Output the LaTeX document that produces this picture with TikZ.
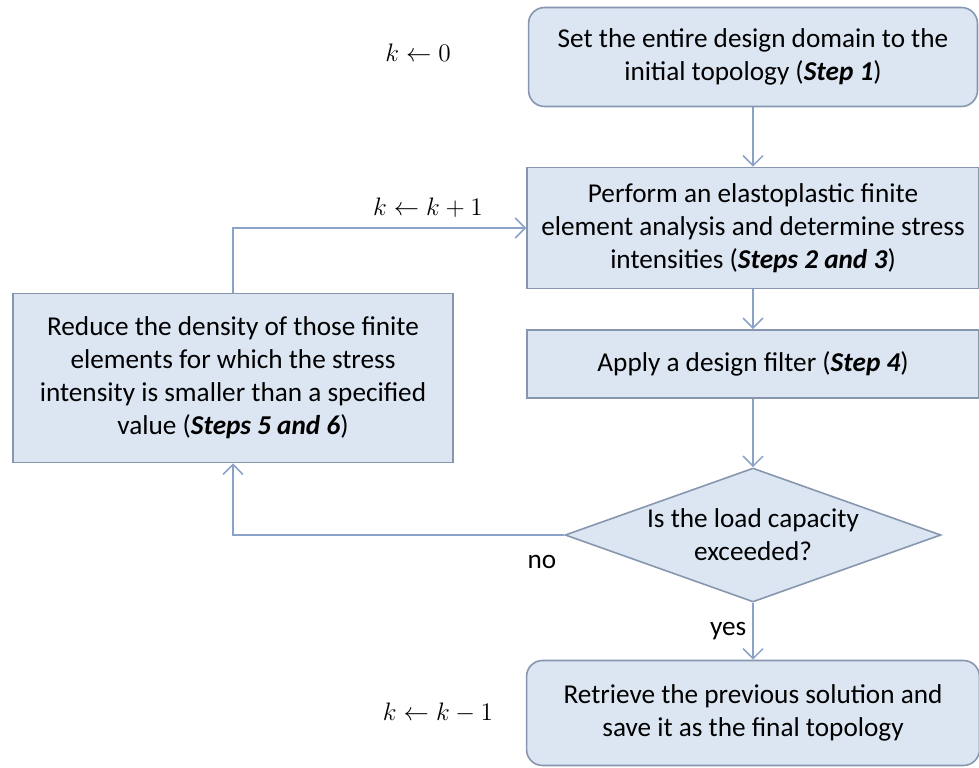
\documentclass[tikz,border=0pt]{standalone}
\usepackage{fontspec}
\setmainfont{Carlito}
\usetikzlibrary{shapes.geometric,arrows.meta}
\definecolor{boxfill}{HTML}{DCE6F2}
\definecolor{boxline}{HTML}{8596AE}
\definecolor{flowline}{HTML}{8AA2C8}
\begin{document}
\begin{tikzpicture}[x=0.02cm,y=-0.02cm,font=\fontsize{15.5}{18.8}\selectfont,
  stepbox/.style={draw=boxline,fill=boxfill,line width=0.9pt,align=center,inner sep=0pt},
  termbox/.style={stepbox,rounded corners=0.32cm},
  flow/.style={draw=flowline,line width=0.9pt,-{Straight Barb[length=2mm,width=4mm]}}] % topology loop
\useasboundingbox (0,0) rectangle (979,767);
    \node[termbox,minimum width=8.98cm,minimum height=1.98cm] (start) at (753,57)
        {Set the entire design domain to the\\initial topology (\textbf{\textit{Step 1}})};
    \node[stepbox,minimum width=9.04cm,minimum height=2.42cm] (fea) at (753,228)
        {Perform an elastoplastic finite\\element analysis and determine stress\\intensities (\textbf{\textit{Steps 2 and 3}})};
    \node[stepbox,minimum width=9.04cm,minimum height=1.36cm] (filter) at (753,364)
        {Apply a design filter (\textbf{\textit{Step 4}})};
    \node[stepbox,diamond,shape aspect=2.8,minimum width=7.52cm,minimum height=2.68cm] (check) at (753,535)
        {Is the load capacity\\exceeded?};
    \node[stepbox,minimum width=8.8cm,minimum height=3.38cm] (reduce) at (233,378)
        {Reduce the density of those finite\\elements for which the stress\\intensity is smaller than a specified\\value (\textbf{\textit{Steps 5 and 6}})};
    \node[termbox,minimum width=9.06cm,minimum height=2.1cm] (final) at (753,713)
        {Retrieve the previous solution and\\save it as the final topology};
    \node (k0) at (418,53) {$k \leftarrow 0$};
    \node (k1) at (428,208) {$k \leftarrow k+1$};
    \node (k2) at (438,713) {$k \leftarrow k-1$};
    \node (no) at (542,562) {no};
    \draw[flow] (start) -- (fea);
    \draw[flow] (fea) -- (filter);
    \draw[flow] (filter) -- (check);
    \draw[flow] (check) -- node[left] (yes) {yes} (final);
    \draw[flow] (check.west) -| (reduce.south);
    \draw[flow] (reduce.north) |- (fea.west);
\end{tikzpicture}
\end{document}
